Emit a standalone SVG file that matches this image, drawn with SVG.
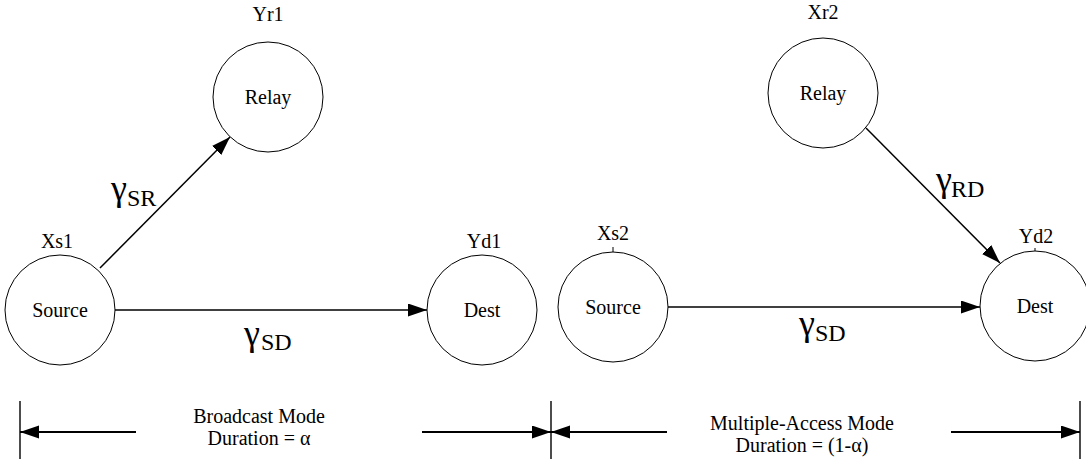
<svg xmlns="http://www.w3.org/2000/svg" width="1086" height="464" viewBox="0 0 1086 464">
<style>
text{font-family:'Liberation Serif','DejaVu Serif','Times New Roman',Times,serif;fill:#000}
.node{fill:#fff;stroke:#000;stroke-width:1}
.t{font-size:20px;text-anchor:middle}
.b{font-size:20px;text-anchor:middle}
.g{font-size:36px}
.s{font-size:24px}
.c{stroke:#000;stroke-width:1.5;fill:none}
.d{stroke:#000;stroke-width:2;fill:none}
.v{stroke:#000;stroke-width:1.4}
.tick{stroke:#000;stroke-width:1}
</style>
<defs>
<marker id="ah" markerUnits="userSpaceOnUse" markerWidth="20" markerHeight="14" refX="19" refY="6.5" orient="auto">
<path d="M0,0 L19,6.5 L0,13 z" fill="#000"/>
</marker>
</defs>
<g id="connectors">
<line class="c" x1="100" y1="268" x2="230" y2="137" marker-end="url(#ah)"/>
<line class="c" x1="115" y1="310" x2="427" y2="310" marker-end="url(#ah)"/>
<line class="c" x1="866" y1="128" x2="1000" y2="263" marker-end="url(#ah)"/>
<line class="c" x1="668" y1="307" x2="980" y2="307" marker-end="url(#ah)"/>
<line class="d" x1="136" y1="432" x2="20" y2="432" marker-end="url(#ah)"/>
<line class="d" x1="422" y1="432" x2="551" y2="432" marker-end="url(#ah)"/>
<line class="d" x1="667" y1="432" x2="551" y2="432" marker-end="url(#ah)"/>
<line class="d" x1="951" y1="432" x2="1080" y2="432" marker-end="url(#ah)"/>
</g>
<g id="boundaries">
<line class="v" x1="20" y1="401" x2="20" y2="459"/>
<line class="v" x1="551" y1="401" x2="551" y2="459"/>
<line class="v" x1="1080" y1="401" x2="1080" y2="459"/>
</g>
<g id="source1">
<circle class="node" cx="60" cy="310" r="55"/>
<text class="t" x="60" y="317">Source</text>
<text class="t" x="57" y="248">Xs1</text>
</g>
<g id="relay1">
<circle class="node" cx="268" cy="97" r="55"/>
<text class="t" x="268" y="104">Relay</text>
<text class="t" x="268" y="21">Yr1</text>
</g>
<g id="dest1">
<circle class="node" cx="482" cy="310" r="55"/>
<text class="t" x="482" y="317">Dest</text>
<text class="t" x="484" y="248">Yd1</text>
</g>
<g id="source2">
<circle class="node" cx="613" cy="307" r="55"/>
<line class="tick" x1="613" y1="247" x2="613" y2="252"/>
<text class="t" x="613" y="314">Source</text>
<text class="t" x="613" y="240">Xs2</text>
</g>
<g id="relay2">
<circle class="node" cx="823" cy="93" r="55"/>
<text class="t" x="823" y="100">Relay</text>
<text class="t" x="823" y="19">Xr2</text>
</g>
<g id="dest2">
<circle class="node" cx="1035" cy="306" r="55"/>
<line class="tick" x1="1035" y1="248" x2="1035" y2="251"/>
<text class="t" x="1035" y="313">Dest</text>
<text class="t" x="1036" y="243">Yd2</text>
</g>
<g id="labels">
<text><tspan class="g" x="111" y="200">γ</tspan><tspan class="s" x="127" y="206">SR</tspan></text>
<text><tspan class="g" x="244" y="345">γ</tspan><tspan class="s" x="261" y="350">SD</tspan></text>
<text><tspan class="g" x="936" y="191">γ</tspan><tspan class="s" x="951" y="197">RD</tspan></text>
<text><tspan class="g" x="799" y="335">γ</tspan><tspan class="s" x="815" y="341">SD</tspan></text>
<text class="b" x="259" y="423">Broadcast Mode</text>
<text class="b" x="259" y="445">Duration = α</text>
<text class="b" x="802" y="430">Multiple-Access Mode</text>
<text class="b" x="802" y="452">Duration = (1-α)</text>
</g>
</svg>
